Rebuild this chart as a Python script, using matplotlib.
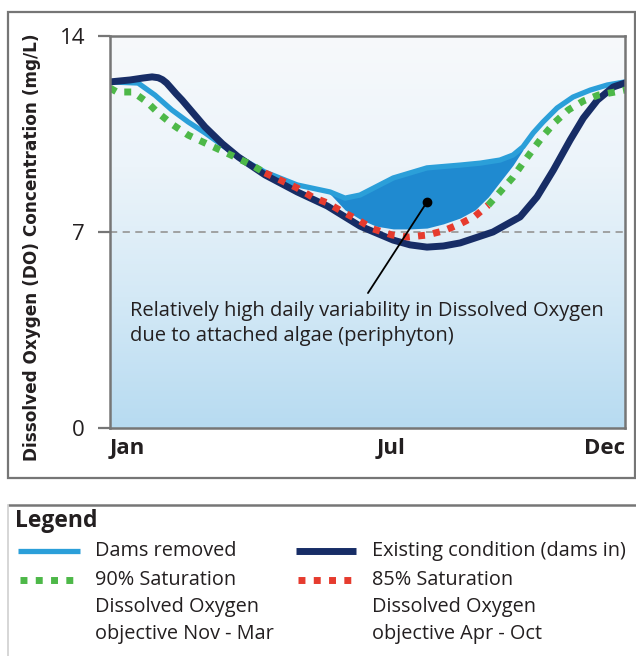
import numpy as np
import matplotlib
matplotlib.use("Agg")
import matplotlib.pyplot as plt
from matplotlib.colors import LinearSegmentedColormap
from matplotlib.patches import Rectangle

# months: Jan = 0 ... Dec = 11, values in mg/L
existing_x = [0.00, 0.43, 0.71, 0.90, 1.03, 1.12, 1.21, 1.30, 1.41, 1.54, 2.03, 2.40, 2.74, 3.31,
              4.00, 4.64, 5.34, 6.05, 6.41, 6.77, 7.12, 7.48, 8.18, 8.76, 9.12, 9.47, 9.83,
              10.11, 10.41, 10.75, 11.00]
existing_y = [12.36, 12.43, 12.50, 12.54, 12.51, 12.44, 12.32, 12.15, 11.94, 11.71, 10.75, 10.15,
              9.68, 9.04, 8.43, 7.93, 7.21, 6.71, 6.54, 6.46, 6.50, 6.61, 7.00, 7.54, 8.25,
              9.21, 10.29, 11.07, 11.71, 12.18, 12.32]

dams_x = [0.00, 0.60, 0.96, 1.32, 1.67, 2.03, 2.39, 2.78, 3.31, 4.00, 4.70, 5.02, 5.34,
          6.05, 6.77, 7.48, 7.91, 8.33, 8.61, 8.82, 9.04, 9.25, 9.55, 9.89, 10.26, 10.62, 11.00]
dams_y = [12.36, 12.32, 11.89, 11.36, 10.93, 10.54, 10.11, 9.64, 9.14, 8.68, 8.43, 8.21, 8.32,
          8.93, 9.29, 9.39, 9.46, 9.57, 9.75, 10.04, 10.54, 10.93, 11.43, 11.82, 12.07, 12.25, 12.36]

# 90% saturation objective (Nov - Mar), early and late part of the year
sat90_early_x = [0.00, 0.15, 0.49, 0.79, 1.03, 1.35, 1.67, 1.99, 2.35, 2.67, 3.03, 3.31]
sat90_early_y = [12.14, 12.00, 12.00, 11.64, 11.25, 10.82, 10.46, 10.21, 9.93, 9.68, 9.39, 9.11]
sat90_late_x = [8.08, 8.33, 8.61, 8.82, 9.04, 9.25, 9.51, 9.79, 10.11, 10.43, 10.79, 11.00]
sat90_late_y = [7.96, 8.43, 8.96, 9.46, 9.96, 10.43, 10.93, 11.36, 11.68, 11.89, 12.00, 12.07]

# 85% saturation objective (Apr - Oct)
sat85_x = [3.31, 3.63, 4.00, 4.32, 4.64, 4.98, 5.30, 5.62, 6.03, 6.37, 6.77, 7.12, 7.48, 7.80, 8.08]
sat85_y = [9.11, 8.86, 8.57, 8.25, 8.04, 7.71, 7.43, 7.11, 6.89, 6.82, 6.89, 7.04, 7.29, 7.57, 7.96]

# daily variability band
band_x = [4.70, 5.02, 5.34, 5.68, 6.05, 6.41, 6.77, 7.12, 7.48, 7.80, 8.08, 8.33, 8.61, 8.82]
band_top = [8.43, 8.21, 8.32, 8.64, 8.93, 9.14, 9.29, 9.36, 9.39, 9.43, 9.50, 9.57, 9.75, 10.00]
band_bottom = [8.36, 7.79, 7.46, 7.21, 7.11, 7.11, 7.14, 7.29, 7.50, 7.79, 8.25, 8.79, 9.39, 9.93]

objective_level = 7
month_ticks = [0, 6, 11]
month_labels = ["Jan", "Jul", "Dec"]
do_ticks = [0, 7, 14]

note_text = "Relatively high daily variability in Dissolved Oxygen\ndue to attached algae (periphyton)"
note_xy = (0.43, 3.73)
pointer_from = (5.51, 4.82)
pointer_to = (6.77, 8.07)

legend_labels = ["Dams removed", "Existing condition (dams in)",
                 "90% Saturation\nDissolved Oxygen\nobjective Nov - Mar",
                 "85% Saturation\nDissolved Oxygen\nobjective Apr - Oct"]

c_dams = "#2b9fd9"
c_band = "#1f8ad0"
c_exist = "#172d66"
c_green = "#4db848"
c_red = "#e63b2e"
c_frame = "#767676"
txt = "#231f20"

plt.rcParams['font.family'] = ['Open Sans', 'DejaVu Sans']

fig = plt.figure(figsize=(6.36, 6.56), dpi=100)

# overlay in pixel coordinates for the frames and the legend
ov = fig.add_axes([0, 0, 1, 1], zorder=0)
ov.set_xlim(0, 636)
ov.set_ylim(656, 0)
ov.axis('off')
ov.add_patch(Rectangle((8, 12), 627, 466, fill=False, ec=c_frame, lw=1.6))
ov.plot([8, 636], [505, 505], color=c_frame, lw=1.8, solid_capstyle='butt')
ov.plot([8, 8], [505, 656], color="#cfcfcf", lw=1.2)

ax = fig.add_axes([110 / 636, 1 - 428 / 656, 515 / 636, 392 / 656], zorder=2)
ax.set_xlim(0, 11)
ax.set_ylim(0, 14)

bg = LinearSegmentedColormap.from_list("bg", ["#b7dbf1", "#d4e9f6", "#ecf4fa", "#f7f9fb"])
ax.imshow(np.linspace(0, 1, 256).reshape(-1, 1), extent=[0, 11, 0, 14], origin='lower',
          aspect='auto', cmap=bg, zorder=0)

ax.axhline(objective_level, color="#9b9b9b", lw=1.3, dashes=(4, 3), zorder=1)
ax.fill_between(band_x, band_bottom, band_top, color=c_band, lw=0, zorder=2)
ax.plot(dams_x, dams_y, color=c_dams, lw=3.8, zorder=3, solid_capstyle='round', solid_joinstyle='round')
ax.plot(existing_x, existing_y, color=c_exist, lw=5, zorder=4, solid_capstyle='round',
        solid_joinstyle='round')
ax.plot(sat90_early_x, sat90_early_y, color=c_green, lw=5, dashes=(1, 1.2), zorder=5)
ax.plot(sat85_x, sat85_y, color=c_red, lw=5, dashes=(1, 1.2), zorder=5)
ax.plot(sat90_late_x, sat90_late_y, color=c_green, lw=5, dashes=(1, 1.2), zorder=5)

ax.annotate("", xy=pointer_to, xytext=pointer_from,
            arrowprops=dict(arrowstyle='-', color='black', lw=1.3, shrinkA=0, shrinkB=0), zorder=6)
ax.plot(*pointer_to, 'o', color='black', ms=6, zorder=7)
ax.text(note_xy[0], note_xy[1], note_text, fontsize=14.5, color=txt, va='center', ha='left',
        linespacing=1.32, zorder=6)

for s in ['left', 'bottom', 'top', 'right']:
    ax.spines[s].set_color(c_frame)
    ax.spines[s].set_linewidth(1.8)
    ax.spines[s].set_zorder(8)

ax.set_yticks(do_ticks)
ax.tick_params(axis='y', length=9, width=1.6, color=c_frame, pad=9, labelsize=16, labelcolor=txt)
ax.set_xticks(month_ticks)
ax.set_xticklabels(month_labels, fontweight='bold', fontsize=16, color=txt)
ax.tick_params(axis='x', length=0, pad=7)
xl = ax.get_xticklabels()
xl[0].set_ha('left')
xl[-1].set_ha('right')

fig.text(32 / 636, 1 - 247 / 656, "Dissolved Oxygen (DO) Concentration (mg/L)",
         rotation=90, ha='center', va='center', fontsize=12.2, fontweight='bold',
         color=txt, family=['DejaVu Sans'])

# legend
ov.text(15, 521, "Legend", fontsize=16.5, fontweight='bold', color=txt, va='center', ha='left')
legend_styles = [dict(color=c_dams, lw=3.8), dict(color=c_exist, lw=5),
                 dict(color=c_green, lw=5, dashes=(1, 1.2)), dict(color=c_red, lw=5, dashes=(1, 1.2))]
col_x = [(18, 80, 95), (296, 356, 372)]
row_y = [551, 580]
for i, (lab, st) in enumerate(zip(legend_labels, legend_styles)):
    x0, x1, tx = col_x[i % 2]
    y0 = row_y[i // 2]
    if 'dashes' in st:
        x0, x1 = x0 + 2, x0 + 55
    ov.plot([x0, x1], [y0, y0], solid_capstyle='butt', **st)
    for j, line in enumerate(lab.split("\n")):
        ov.text(tx, y0 + j * 27, line, fontsize=14.3, color=txt, va='center', ha='left')

fig.savefig("out.png", dpi=100)
